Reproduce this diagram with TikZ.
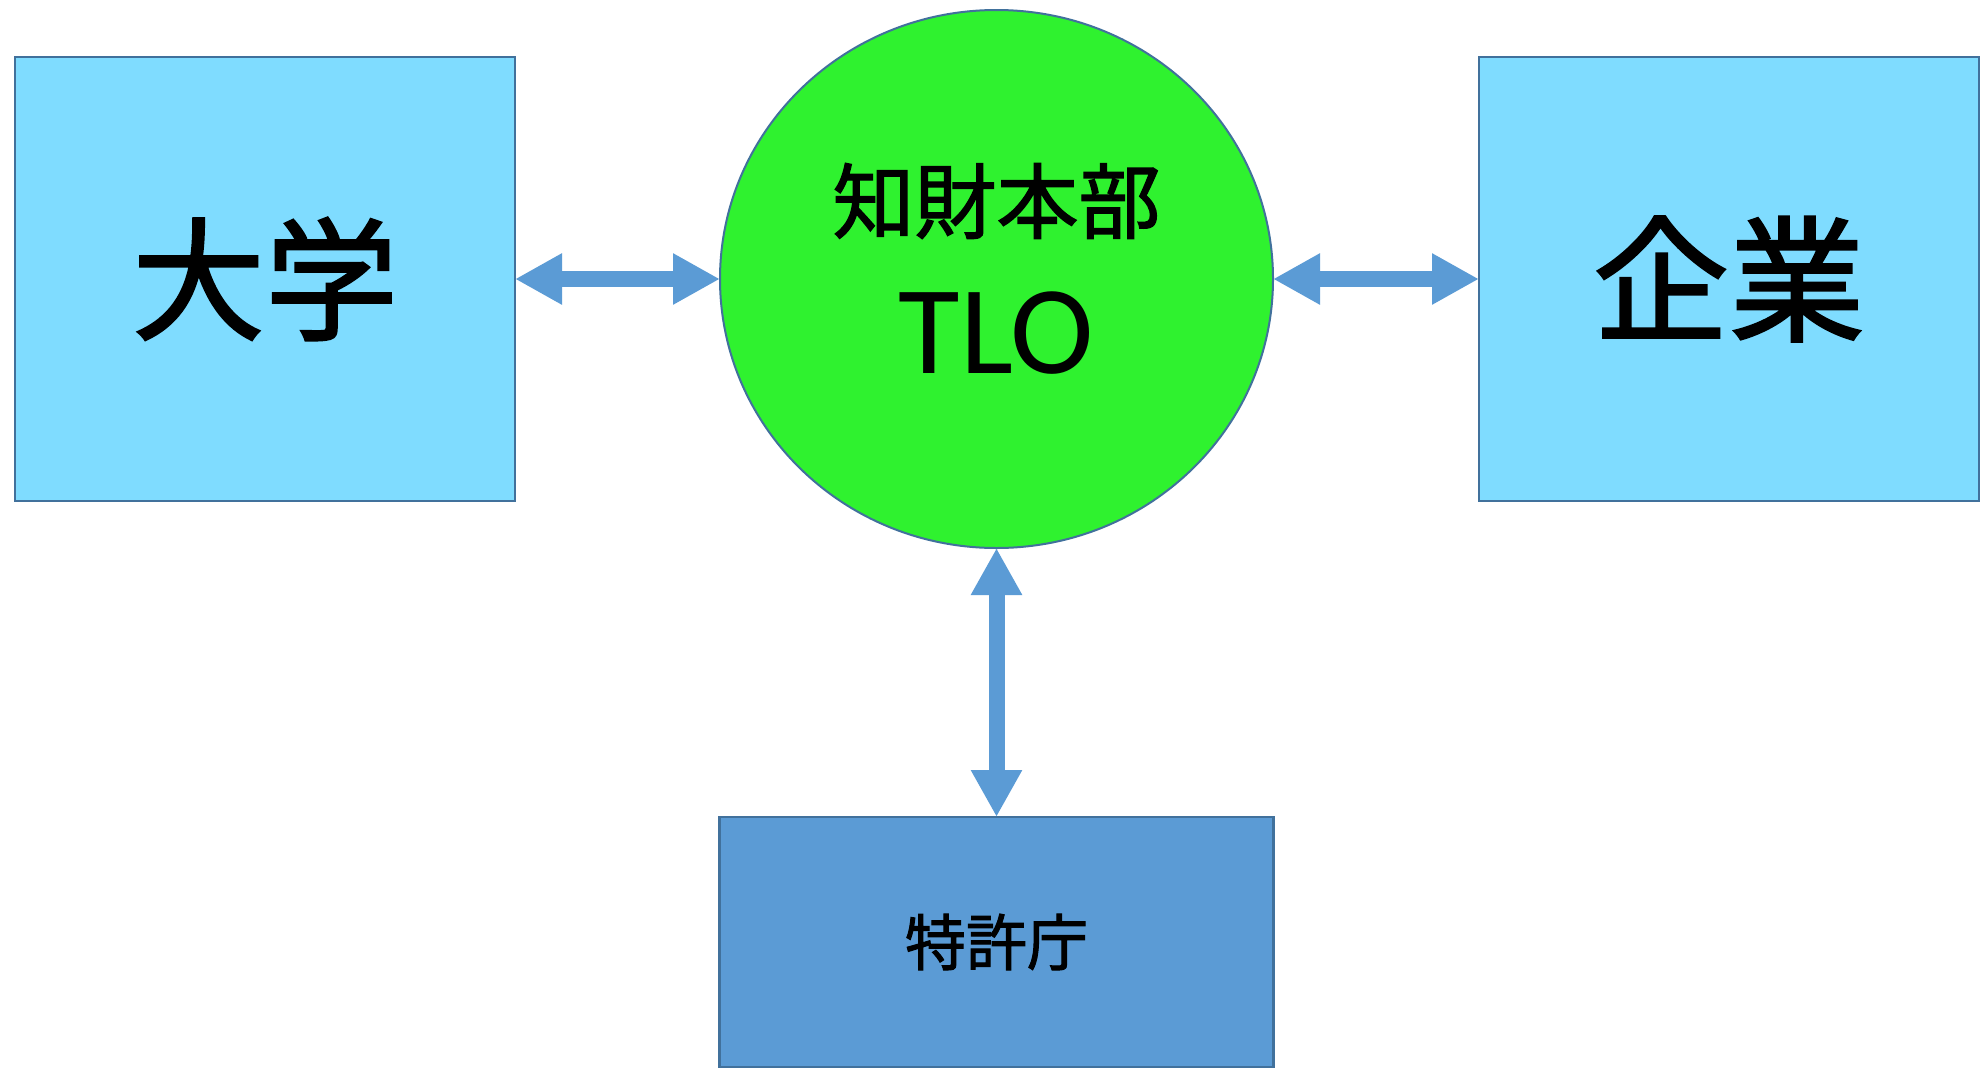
\documentclass[tikz,border=0pt]{standalone}
\usepackage{fontspec}
\setmainfont{Carlito}
\newfontfamily\cjk[FakeBold=1.6,AutoFakeBold=1.6]{Noto Sans CJK JP}
\usetikzlibrary{arrows.meta,shapes.geometric}
\definecolor{lightbox}{HTML}{7FDCFF}
\definecolor{tlogreen}{HTML}{2FF22F}
\definecolor{arrowblue}{HTML}{5B9BD5}
\definecolor{edgeblue}{HTML}{41719C}
\tikzset{
  orgbox/.style={draw=edgeblue, line width=2.5pt, fill=lightbox, minimum width=500pt, minimum height=444pt, inner sep=0pt, outer sep=0pt, anchor=north west},
  bigarrow/.style={draw=arrowblue, line width=16pt,
    {Triangle[length=47pt,width=48pt]}-{Triangle[length=47pt,width=48pt]}},
  cjklabel/.style={text=black, inner sep=0pt}
}
\begin{document}
\begin{tikzpicture}[x=1pt,y=-1pt]
\useasboundingbox[fill=white] (0,0) rectangle (1984,1074);
\node[orgbox] (univ) at (15,57) {};
\node[orgbox] (corp) at (1479,57) {};
\node[draw=edgeblue, line width=2.5pt, fill=arrowblue, minimum width=554pt, minimum height=250pt, inner sep=0pt, outer sep=0pt, anchor=north west] (jpo) at (719.5,817) {};
\node[ellipse, draw=edgeblue, line width=2pt, fill=tlogreen, minimum width=553pt, minimum height=538pt, inner sep=0pt, outer sep=0pt] (tlo) at (996.5,279) {};
\node[cjklabel, font=\cjk\fontsize{133}{140}\selectfont] (univtxt) at (univ.center) {大学};
\node[cjklabel, font=\cjk\fontsize{136}{140}\selectfont] (corptxt) at (corp.center) {企業};
\node[cjklabel, font=\cjk\fontsize{61}{70}\selectfont] (jpotxt) at (jpo.center) {特許庁};
\node[cjklabel, font=\cjk\fontsize{82}{90}\selectfont] (tlotxt1) at (996.5,201) {知財本部};
\node[inner sep=0pt, font=\fontsize{126}{130}\selectfont] (tlotxt2) at (996.5,333) {TLO};
\draw[bigarrow] (univ.east) -- (tlo.west);
\draw[bigarrow] (tlo.east) -- (corp.west);
\draw[bigarrow] (tlo.south) -- (jpo.north);
\end{tikzpicture}
\end{document}
